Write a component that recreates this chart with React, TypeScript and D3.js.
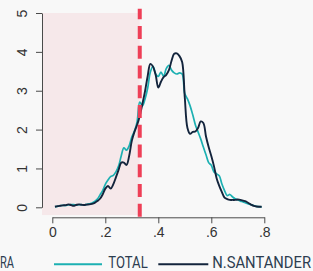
import { useEffect, useRef } from "react";
import * as d3 from "d3";

const W = 313;
const H = 271;

// density grid (x) and the two curves
const xs = [
  0.01, 0.02, 0.03, 0.04, 0.05, 0.06, 0.07, 0.08, 0.09, 0.10,
  0.11, 0.12, 0.13, 0.14, 0.15, 0.16, 0.17, 0.18, 0.19, 0.20,
  0.21, 0.22, 0.23, 0.24, 0.25, 0.26, 0.27, 0.28, 0.29, 0.30,
  0.31, 0.32, 0.33, 0.34, 0.35, 0.36, 0.37, 0.38, 0.39, 0.40,
  0.41, 0.42, 0.43, 0.44, 0.45, 0.46, 0.47, 0.48, 0.49, 0.50,
  0.51, 0.52, 0.53, 0.54, 0.55, 0.56, 0.57, 0.58, 0.59, 0.60,
  0.61, 0.62, 0.63, 0.64, 0.65, 0.66, 0.67, 0.68, 0.69, 0.70,
  0.71, 0.72, 0.73, 0.74, 0.75, 0.76, 0.77, 0.78, 0.79,
];

const total = [
  0.015, 0.025, 0.04, 0.05, 0.045, 0.06, 0.07, 0.07, 0.06, 0.065,
  0.07, 0.06, 0.077, 0.09, 0.11, 0.15, 0.21, 0.32, 0.43, 0.59,
  0.70, 0.79, 0.82, 0.91, 1.06, 1.32, 1.53, 1.47, 1.58, 1.81,
  1.96, 2.20, 2.71, 2.61, 2.79, 3.07, 3.48, 3.63, 3.43, 3.37,
  3.48, 3.37, 3.57, 3.65, 3.53, 3.46, 3.43, 3.46, 3.43, 2.92,
  2.79, 2.61, 2.38, 2.12, 1.94, 1.76, 1.55, 1.35, 1.15, 1.08,
  0.91, 0.86, 0.81, 0.60, 0.43, 0.30, 0.33, 0.27, 0.22, 0.19,
  0.16, 0.14, 0.11, 0.085, 0.065, 0.045, 0.025, 0.015, 0.013,
];

const nSantander = [
  0.015, 0.03, 0.04, 0.05, 0.055, 0.075, 0.06, 0.04, 0.06, 0.075,
  0.065, 0.06, 0.07, 0.075, 0.09, 0.115, 0.16, 0.22, 0.33, 0.48,
  0.55, 0.48, 0.59, 0.77, 0.96, 1.15, 1.15, 1.09, 1.32, 1.71,
  1.94, 2.12, 2.35, 2.66, 2.99, 3.38, 3.69, 3.62, 3.41, 3.08,
  3.23, 3.35, 3.41, 3.53, 3.77, 3.95, 3.96, 3.89, 3.74, 2.82,
  2.04, 1.89, 1.94, 1.95, 2.04, 2.21, 2.17, 1.82, 1.55, 1.32,
  1.06, 0.75, 0.55, 0.39, 0.25, 0.21, 0.19, 0.19, 0.19, 0.20,
  0.19, 0.17, 0.15, 0.11, 0.07, 0.035, 0.02, 0.015, 0.015,
];

const xTicks = [0, 0.2, 0.4, 0.6, 0.8];
const yTicks = [0, 1, 2, 3, 4, 5];
const cutoff = 0.33;

const C = {
  bg: "#f8f8f8",
  shade: "#f6e8ea",
  red: "#ee3f57",
  teal: "#1cb0b2",
  navy: "#13243c",
  axis: "#4a4a4a",
  text: "#333333",
  legend: "#2d3d50",
};

export default function App() {
  const ref = useRef<SVGSVGElement | null>(null);

  useEffect(() => {
    if (!ref.current) return;
    const svg = d3.select(ref.current);
    svg.selectAll("*").remove();

    const x = d3.scaleLinear().domain([0, 0.8]).range([52.3, 264.3]);
    const y = d3.scaleLinear().domain([0, 5]).range([207.3, 13]);

    svg.append("rect").attr("width", W).attr("height", H).attr("fill", C.bg);

    // shaded region left of cutoff
    svg.append("rect")
      .attr("x", x(-0.039)).attr("y", y(5))
      .attr("width", x(cutoff) - x(-0.039))
      .attr("height", y(-0.2) - y(5))
      .attr("fill", C.shade);

    const line = d3.line<number>()
      .x((_, i) => x(xs[i]))
      .y(d => y(d))
      .curve(d3.curveCatmullRom.alpha(0.5));

    svg.append("path").datum(total)
      .attr("fill", "none").attr("stroke", C.teal).attr("stroke-width", 1.7)
      .attr("d", line);

    svg.append("path").datum(nSantander)
      .attr("fill", "none").attr("stroke", C.navy).attr("stroke-width", 1.9)
      .attr("d", line);

    // cutoff line, dashes start at the bottom
    svg.append("line")
      .attr("x1", x(cutoff)).attr("x2", x(cutoff))
      .attr("y1", y(-0.24)).attr("y2", y(5.11))
      .attr("stroke", C.red).attr("stroke-width", 4)
      .attr("stroke-dasharray", "13 6.75");

    const font = "'Liberation Sans', Arial, Helvetica, sans-serif";

    svg.append("g").attr("transform", `translate(0,217.3)`)
      .call(d3.axisBottom(x).tickValues(xTicks).tickSize(6).tickSizeOuter(0).tickPadding(3.4)
        .tickFormat(d => (+d === 0 ? "0" : d3.format(".1f")(+d).replace(/^0/, ""))))
      .call(g => {
        g.select(".domain").attr("stroke", C.axis);
        g.selectAll(".tick line").attr("stroke", C.axis);
        g.selectAll("text").attr("font-size", 14).attr("fill", C.text).attr("font-family", font);
      });

    svg.append("g").attr("transform", `translate(42,0)`)
      .call(d3.axisLeft(y).tickValues(yTicks).tickSize(6).tickSizeOuter(0).tickFormat(d3.format("d")))
      .call(g => {
        g.select(".domain").attr("stroke", C.axis);
        g.selectAll(".tick line").attr("stroke", C.axis);
        g.selectAll("text")
          .attr("transform", "rotate(-90)")
          .attr("x", 0).attr("y", -15.3).attr("dy", 0)
          .attr("text-anchor", "middle")
          .attr("font-size", 14).attr("fill", C.text).attr("font-family", font);
      });

    // legend
    const lg = svg.append("g");
    const lfont = "Roboto, 'DejaVu Sans', sans-serif";
    lg.append("text").attr("x", 14).attr("y", 267.7).attr("text-anchor", "end")
      .attr("font-size", 17).attr("font-family", lfont).attr("fill", C.legend)
      .attr("textLength", 14).attr("lengthAdjust", "spacingAndGlyphs").text("RA");
    lg.append("line").attr("x1", 54).attr("x2", 102).attr("y1", 264.3).attr("y2", 264.3)
      .attr("stroke", C.teal).attr("stroke-width", 2);
    lg.append("text").attr("x", 108.3).attr("y", 267.7)
      .attr("font-size", 17).attr("font-family", lfont).attr("fill", C.legend)
      .attr("textLength", 39.4).attr("lengthAdjust", "spacingAndGlyphs").text("TOTAL");
    lg.append("line").attr("x1", 158.3).attr("x2", 208.3).attr("y1", 264.3).attr("y2", 264.3)
      .attr("stroke", C.navy).attr("stroke-width", 2);
    lg.append("text").attr("x", 212.3).attr("y", 267.7)
      .attr("font-size", 17).attr("font-family", lfont).attr("fill", C.legend)
      .attr("textLength", 98.7).attr("lengthAdjust", "spacingAndGlyphs").text("N.SANTANDER");
  }, []);

  return (
    <div style={{ position: "absolute", left: 0, top: 0 }}>
      <svg ref={ref} width={W} height={H} style={{ display: "block" }} />
    </div>
  );
}
